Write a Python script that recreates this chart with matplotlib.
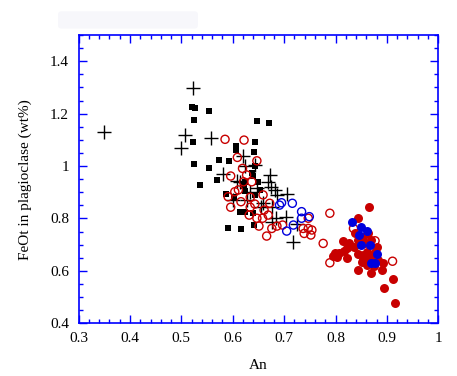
import matplotlib

matplotlib.use("Agg")
import matplotlib.pyplot as plt
from matplotlib.patches import FancyBboxPatch
from matplotlib.ticker import MultipleLocator

plt.rcParams["font.family"] = ["Liberation Serif", "DejaVu Serif"]

# black crosses
cross_an = [0.350, 0.523, 0.507, 0.499, 0.558, 0.582, 0.619, 0.624, 0.608, 0.601,
            0.672, 0.669, 0.674, 0.682, 0.706, 0.655, 0.676, 0.684, 0.704, 0.676,
            0.726, 0.717, 0.634, 0.614, 0.643, 0.647, 0.627, 0.686, 0.659]
cross_fe = [1.131, 1.297, 1.117, 1.068, 1.108, 0.970, 1.038, 1.000, 0.944, 0.870,
            0.966, 0.940, 0.921, 0.909, 0.893, 0.843, 0.843, 0.801, 0.807, 0.788,
            0.779, 0.709, 0.902, 0.940, 1.004, 0.915, 0.870, 0.890, 0.858]

# black filled squares
square_an = [0.521, 0.526, 0.554, 0.525, 0.523, 0.525, 0.537, 0.554, 0.574, 0.593,
             0.570, 0.586, 0.607, 0.607, 0.644, 0.648, 0.671, 0.641, 0.644, 0.640,
             0.603, 0.621, 0.650, 0.653, 0.623, 0.614, 0.623, 0.640, 0.591, 0.617,
             0.642, 0.637, 0.624, 0.643]
square_fe = [1.224, 1.220, 1.209, 1.175, 1.092, 1.007, 0.927, 0.991, 1.022, 1.018,
             0.947, 0.892, 1.076, 1.061, 1.091, 1.171, 1.163, 1.052, 0.999, 0.962,
             0.881, 0.924, 0.938, 0.909, 0.906, 0.826, 0.826, 0.820, 0.762, 0.759,
             0.775, 0.972, 0.940, 0.890]

# red open circles
red_open_an = [0.585, 0.622, 0.609, 0.647, 0.619, 0.596, 0.627, 0.621, 0.637, 0.611,
               0.604, 0.591, 0.616, 0.634, 0.643, 0.596, 0.634, 0.659, 0.672, 0.632,
               0.647, 0.658, 0.669, 0.676, 0.666, 0.686, 0.697, 0.747, 0.737, 0.747,
               0.754, 0.752, 0.739, 0.789, 0.776, 0.789, 0.835, 0.911, 0.877, 0.661,
               0.651]
red_open_fe = [1.102, 1.099, 1.033, 1.020, 0.991, 0.962, 0.966, 0.940, 0.940, 0.909,
               0.902, 0.883, 0.864, 0.881, 0.855, 0.843, 0.843, 0.890, 0.858, 0.813,
               0.801, 0.801, 0.813, 0.762, 0.733, 0.771, 0.775, 0.801, 0.762, 0.762,
               0.756, 0.737, 0.743, 0.820, 0.705, 0.631, 0.762, 0.637, 0.715, 0.832,
               0.771]

# blue open circles
blue_open_an = [0.695, 0.691, 0.716, 0.734, 0.749, 0.734, 0.705, 0.718]
blue_open_fe = [0.860, 0.851, 0.858, 0.826, 0.807, 0.801, 0.752, 0.775]

# red filled circles
red_fill_an = [0.866, 0.844, 0.814, 0.827, 0.822, 0.836, 0.799, 0.796, 0.807, 0.822,
               0.816, 0.844, 0.854, 0.864, 0.857, 0.880, 0.870, 0.844, 0.861, 0.867,
               0.854, 0.851, 0.870, 0.883, 0.893, 0.890, 0.844, 0.869, 0.912, 0.894,
               0.916, 0.838, 0.853, 0.877, 0.802, 0.862, 0.875]
red_fill_fe = [0.843, 0.801, 0.715, 0.705, 0.686, 0.692, 0.667, 0.657, 0.669, 0.648,
               0.676, 0.718, 0.730, 0.743, 0.705, 0.692, 0.718, 0.664, 0.673, 0.657,
               0.642, 0.634, 0.642, 0.642, 0.631, 0.603, 0.603, 0.591, 0.568, 0.534,
               0.479, 0.743, 0.661, 0.672, 0.654, 0.622, 0.619]

# blue filled circles
blue_fill_an = [0.833, 0.850, 0.862, 0.846, 0.849, 0.867, 0.881, 0.870, 0.877]
blue_fill_fe = [0.788, 0.766, 0.753, 0.737, 0.699, 0.699, 0.663, 0.631, 0.631]

x_ticks = [0.3, 0.4, 0.5, 0.6, 0.7, 0.8, 0.9, 1.0]
x_tick_labels = ["0.3", "0.4", "0.5", "0.6", "0.7", "0.8", "0.9", "1"]
y_ticks = [0.4, 0.6, 0.8, 1.0, 1.2, 1.4]
y_tick_labels = ["0.4", "0.6", "0.8", "1", "1.2", "1.4"]

RED = "#c80000"
BLUE = "#0000dd"
AXIS_BLUE = "#0000ff"

fig = plt.figure(figsize=(4.57, 3.76), dpi=100)
ax = fig.add_axes([0.172, 0.140, 0.787, 0.767])

# faint blurred title area
fig.patches.append(FancyBboxPatch((0.135, 0.932), 0.29, 0.03, boxstyle="round,pad=0.008",
                                  transform=fig.transFigure, facecolor="#f7f7fb",
                                  edgecolor="none"))

ax.scatter(cross_an, cross_fe, marker="+", s=110, c="black", linewidths=1.0, zorder=2)
ax.scatter(square_an, square_fe, marker="s", s=18, c="black", linewidths=0, zorder=2)
ax.scatter(red_open_an, red_open_fe, marker="o", s=34, facecolors="none",
           edgecolors=RED, linewidths=1.0, zorder=3)
ax.scatter(blue_open_an, blue_open_fe, marker="o", s=34, facecolors="none",
           edgecolors=BLUE, linewidths=1.0, zorder=3)
ax.scatter(red_fill_an, red_fill_fe, marker="o", s=42, c=RED, linewidths=0, zorder=4)
ax.scatter(blue_fill_an, blue_fill_fe, marker="o", s=42, c=BLUE, linewidths=0, zorder=5)

ax.set_xlim(0.3, 1.0)
ax.set_ylim(0.4, 1.5)
ax.set_xticks(x_ticks, x_tick_labels)
ax.set_yticks(y_ticks, y_tick_labels)
ax.xaxis.set_minor_locator(MultipleLocator(0.02))
ax.yaxis.set_minor_locator(MultipleLocator(0.05))

for spine in ax.spines.values():
    spine.set_color(AXIS_BLUE)
    spine.set_linewidth(1.2)
ax.tick_params(which="both", direction="in", top=True, right=True,
               color=AXIS_BLUE, width=1.0, labelsize=11, labelcolor="black")
ax.tick_params(which="major", length=6)
ax.tick_params(axis="x", which="major", pad=6)
ax.tick_params(axis="y", which="major", pad=7)
ax.tick_params(which="minor", length=3)

ax.set_xlabel("An", fontsize=11, labelpad=10)
ax.set_ylabel("FeOt in plagioclase (wt%)", fontsize=11, labelpad=13)

fig.savefig("out.png", dpi=100)
